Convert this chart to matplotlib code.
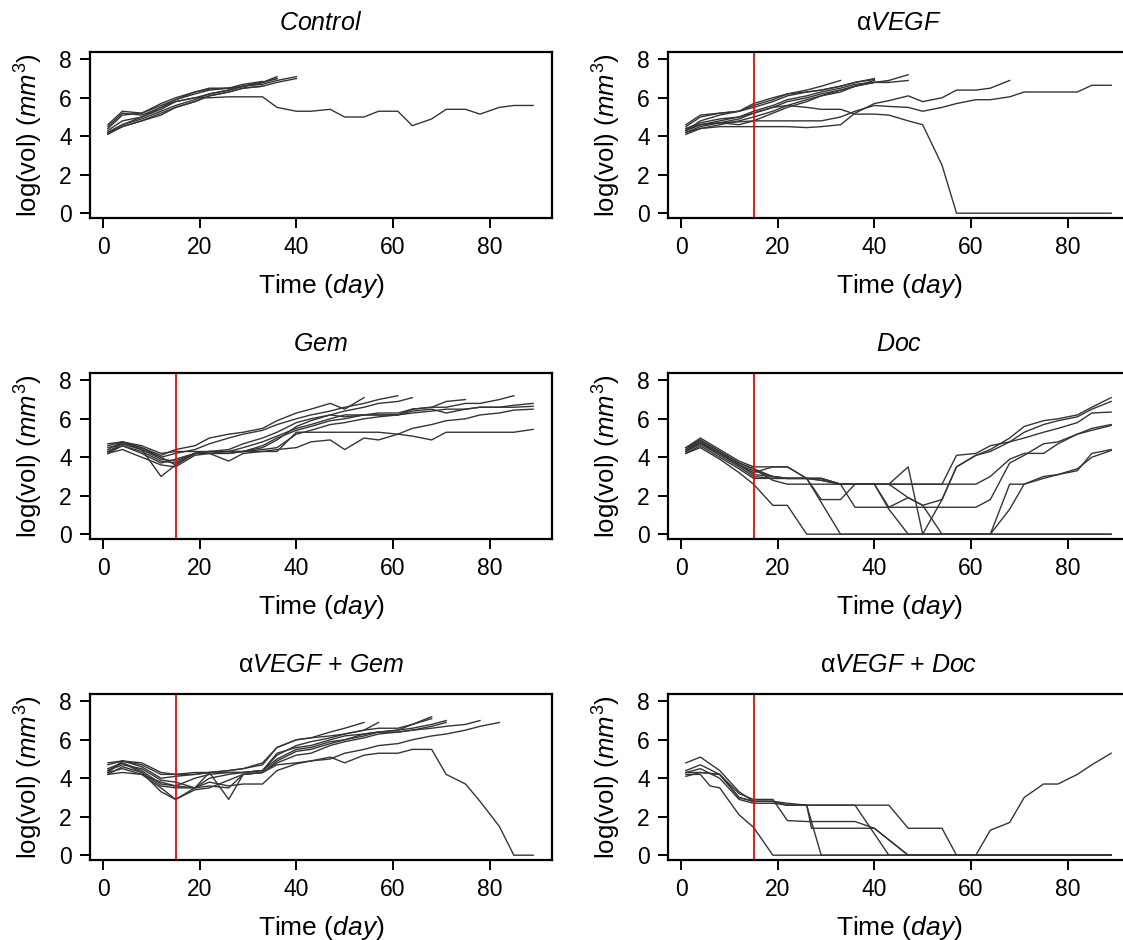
import matplotlib
matplotlib.use("Agg")
import matplotlib.pyplot as plt

plt.rcParams['font.family'] = ['Liberation Sans', 'DejaVu Sans']
plt.rcParams['mathtext.fontset'] = 'custom'
plt.rcParams['mathtext.rm'] = 'Liberation Sans'
plt.rcParams['mathtext.it'] = 'Liberation Sans:italic'

# measurement days shared by most tumours
grid = [1, 4, 8, 12, 15, 19, 22, 26, 29, 33, 36, 40, 43, 47, 50, 54, 57, 61,
        64, 68, 71, 75, 78, 82, 85, 89]
treat_day = 15

# ---- Control
ctrl_1 = [4.6, 5.3, 5.2, 5.7, 6.0, 6.3, 6.45, 6.5, 6.6, 6.8, 7.1]
ctrl_2 = [4.3, 4.8, 5.0, 5.5, 5.8, 6.0, 6.2, 6.4, 6.6, 6.7, 6.9, 7.1]
ctrl_3 = [4.1, 4.5, 4.8, 5.2, 5.5, 5.8, 6.1, 6.3, 6.5, 6.6, 6.8, 7.0]
ctrl_4 = [4.2, 4.6, 4.9, 5.3, 5.6, 5.9, 6.2, 6.4, 6.6, 6.8, 7.0]
ctrl_5 = [4.2, 4.6, 5.0, 5.4, 5.8, 6.0, 6.0, 6.05, 6.05, 6.05, 5.5, 5.3, 5.3,
          5.4, 5.0, 5.0, 5.3, 5.3, 4.55, 4.9, 5.4, 5.4, 5.15, 5.5, 5.6, 5.6]
ctrl_6 = [4.4, 5.1, 5.2, 5.6, 5.9, 6.2, 6.4, 6.5, 6.7, 6.85]
ctrl_7 = [4.15, 4.5, 4.8, 5.1, 5.5, 5.8, 6.1, 6.3, 6.5, 6.6]
ctrl_8 = [4.5, 5.2, 5.1, 5.5, 5.9, 6.3, 6.5, 6.5, 6.6, 6.8, 7.0]

# ---- aVEGF
vegf_1_days = [1, 4, 8, 12, 15, 19, 22, 26, 29, 33, 36, 40, 43, 47, 50, 54, 57, 89]
vegf_1 = [4.3, 4.6, 4.8, 5.0, 5.2, 5.5, 5.6, 5.5, 5.4, 5.4, 5.15, 5.15, 5.1,
          4.8, 4.6, 2.5, 0, 0]
vegf_2 = [4.2, 4.4, 4.5, 4.5, 4.5, 4.5, 4.5, 4.45, 4.5, 4.6, 5.2, 5.7, 5.85,
          6.1, 5.8, 6.0, 6.4, 6.4, 6.5, 6.9]
vegf_3 = [4.4, 4.6, 4.7, 4.75, 4.8, 4.8, 4.8, 4.8, 4.8, 5.0, 5.3, 5.6, 5.55,
          5.5, 5.3, 5.5, 5.7, 5.9, 5.9, 6.05, 6.3, 6.3, 6.3, 6.3, 6.65, 6.65]
vegf_4 = [4.5, 5.0, 5.2, 5.3, 5.7, 6.0, 6.2, 6.4, 6.6, 6.9]
vegf_5 = [4.3, 4.8, 5.1, 5.3, 5.5, 5.8, 6.1, 6.3, 6.4, 6.6, 6.8, 7.0]
vegf_6 = [4.2, 4.5, 4.7, 4.9, 5.2, 5.5, 5.8, 6.0, 6.2, 6.4, 6.6, 6.8, 6.8]
vegf_7 = [4.4, 4.7, 4.9, 5.0, 5.3, 5.6, 5.9, 6.1, 6.3, 6.5, 6.7, 6.8, 6.8, 6.9]
vegf_8 = [4.1, 4.4, 4.6, 4.8, 5.0, 5.3, 5.6, 5.9, 6.1, 6.4, 6.6, 6.8, 6.9, 7.2]
vegf_9 = [4.6, 5.1, 5.2, 5.3, 5.6, 5.9, 6.2, 6.3, 6.4, 6.6, 6.8, 6.95]
vegf_10 = [4.3, 4.6, 4.7, 4.6, 4.8, 5.2, 5.5, 5.8, 6.1, 6.3, 6.6, 6.9]

# ---- Gem
gem_1 = [4.6, 4.8, 4.5, 4.1, 4.4, 4.6, 5.0, 5.2, 5.3, 5.5, 5.9, 6.3, 6.5, 6.8, 6.5, 7.1]
gem_2 = [4.3, 4.7, 4.4, 4.0, 4.2, 4.4, 4.7, 5.0, 5.2, 5.4, 5.7, 6.0, 6.2, 6.4,
         6.6, 6.8, 7.0, 7.2]
gem_3 = [4.4, 4.8, 4.6, 4.2, 4.3, 4.3, 4.3, 4.4, 4.7, 5.0, 5.3, 5.8, 6.0, 6.2,
         6.4, 6.6, 6.8, 6.9, 7.1]
gem_4 = [4.2, 4.6, 4.3, 3.8, 3.7, 4.2, 4.3, 4.3, 4.5, 4.8, 5.1, 5.5, 5.7, 6.0,
         6.2, 6.2, 6.2, 6.2, 6.5, 6.6, 6.9, 7.0]
gem_5 = [4.5, 4.7, 4.4, 3.9, 3.8, 4.2, 4.2, 4.2, 4.3, 4.6, 5.0, 5.4, 5.6, 5.9,
         6.0, 6.2, 6.3, 6.3, 6.5, 6.6, 6.6, 6.8, 6.8, 7.0, 7.2]
gem_6 = [4.2, 4.8, 4.5, 4.0, 3.6, 4.2, 4.2, 4.3, 4.3, 4.5, 4.9, 5.6, 5.9, 6.2,
         6.1, 6.2, 6.2, 6.2, 6.4, 6.5, 6.3, 6.5, 6.6, 6.6, 6.7, 6.8]
gem_7 = [4.3, 4.6, 4.2, 3.7, 3.9, 4.2, 4.2, 4.2, 4.3, 4.4, 4.5, 5.2, 5.4, 5.7,
         5.8, 6.0, 6.1, 6.2, 6.3, 6.4, 6.5, 6.5, 6.6, 6.6, 6.6, 6.65]
gem_8 = [4.2, 4.4, 4.0, 3.6, 3.5, 4.1, 4.2, 3.8, 4.2, 4.3, 4.4, 4.5, 4.8, 4.9,
         4.4, 5.0, 4.9, 5.2, 5.5, 5.7, 5.9, 6.0, 6.2, 6.3, 6.45, 6.5]
gem_9 = [4.7, 4.8, 4.4, 3.0, 3.6, 4.2, 4.3, 4.3, 4.3, 4.3, 4.3, 5.3, 5.3, 5.3,
         5.3, 5.3, 5.3, 5.2, 5.1, 4.9, 5.3, 5.3, 5.3, 5.3, 5.3, 5.45]

# ---- Doc
doc_1_days = [1, 4, 8, 12, 15, 19, 22, 26, 89]
doc_1 = [4.2, 4.5, 3.9, 3.2, 2.6, 1.5, 1.5, 0, 0]
doc_2_days = [1, 4, 8, 12, 15, 19, 22, 26, 33, 89]
doc_2 = [4.3, 4.8, 4.2, 3.6, 3.1, 3.0, 2.9, 2.9, 0, 0]
doc_3 = [4.4, 4.9, 4.3, 3.7, 3.4, 2.8, 2.6, 2.6, 2.6, 2.6, 2.6, 2.6, 2.6, 2.6,
         2.6, 2.6, 4.1, 4.2, 4.6, 4.8, 5.3, 5.7, 5.9, 6.1, 6.5, 6.9]
doc_4 = [4.3, 4.7, 4.2, 3.6, 3.2, 3.5, 3.5, 2.9, 2.9, 2.6, 2.6, 2.6, 2.6, 3.5,
         0, 1.8, 3.5, 4.1, 4.4, 5.0, 5.6, 5.9, 6.0, 6.2, 6.6, 7.1]
doc_5 = [4.2, 4.6, 4.0, 3.4, 2.9, 2.9, 2.9, 2.9, 2.9, 2.6, 2.6, 2.6, 2.6, 2.6,
         2.6, 2.6, 2.6, 2.6, 3.0, 3.9, 4.2, 4.2, 4.7, 5.2, 5.5, 5.7]
doc_6 = [4.4, 4.8, 4.2, 3.6, 3.3, 3.0, 2.9, 2.9, 2.9, 2.6, 1.4, 1.4, 1.4, 1.4,
         1.4, 1.4, 1.4, 1.4, 1.8, 3.7, 4.1, 4.7, 4.8, 5.2, 5.4, 5.65]
doc_7 = [4.3, 4.7, 4.1, 3.5, 3.0, 2.9, 2.9, 2.9, 2.8, 2.6, 2.6, 2.6, 1.3, 0,
         0, 0, 0, 0, 0, 2.6, 2.6, 3.0, 3.1, 3.3, 4.2, 4.4]
doc_8 = [4.5, 4.9, 4.3, 3.7, 3.4, 3.0, 2.9, 2.9, 2.8, 2.6, 2.6, 2.6, 1.4, 1.9,
         1.5, 0, 0, 0, 0, 1.3, 2.6, 2.9, 3.1, 3.4, 4.0, 4.35]
doc_9 = [4.5, 5.0, 4.4, 3.8, 3.5, 3.5, 3.5, 2.9, 1.8, 1.8, 2.6, 2.6, 2.6, 1.9,
         1.5, 1.8, 3.5, 4.1, 4.3, 4.8, 5.0, 5.3, 5.5, 5.8, 6.3, 6.35]

# ---- aVEGF + Gem
ag_1 = [4.8, 4.9, 4.7, 4.2, 4.2, 4.2, 4.3, 4.4, 4.5, 4.7, 5.6, 6.0, 6.1, 6.4, 6.6, 6.9]
ag_2 = [4.4, 4.8, 4.4, 3.7, 3.6, 4.0, 4.2, 4.3, 4.3, 4.4, 5.2, 5.7, 5.9, 6.1,
        6.3, 6.5, 6.9]
ag_3 = [4.2, 4.6, 4.3, 3.6, 3.5, 3.5, 4.0, 4.2, 4.3, 4.4, 5.0, 5.5, 5.6, 5.9,
        6.0, 6.3, 6.4, 6.5, 6.8, 7.2]
ag_4 = [4.3, 4.9, 4.6, 4.0, 4.1, 4.2, 4.3, 4.3, 4.3, 4.4, 5.3, 5.6, 5.7, 6.0,
        6.2, 6.3, 6.4, 6.5, 6.6, 6.8, 7.0]
ag_5 = [4.5, 4.8, 4.3, 3.3, 2.9, 3.4, 3.5, 3.9, 4.2, 4.3, 4.9, 5.4, 5.5, 5.8,
        6.0, 6.2, 6.4, 6.4, 6.5, 6.6, 6.7, 6.8, 7.0]
ag_6 = [4.2, 4.3, 4.2, 3.5, 2.9, 3.5, 4.3, 2.9, 4.2, 4.3, 4.7, 4.8, 4.9, 5.0,
        5.3, 5.5, 5.7, 5.8, 6.0, 6.2, 6.3, 6.5, 6.7, 6.9]
ag_7 = [4.3, 4.5, 4.2, 3.8, 3.6, 3.5, 3.8, 3.6, 3.7, 3.7, 4.4, 4.75, 4.9, 5.1,
        4.8, 5.2, 5.3, 5.3, 5.5, 5.5, 4.2, 3.7, 2.8, 1.5, 0, 0]
ag_8 = [4.7, 4.9, 4.8, 4.3, 4.2, 4.3, 4.3, 4.4, 4.5, 4.8, 5.6, 6.0, 6.1, 6.2,
        6.3, 6.5, 6.6, 6.6, 6.8, 7.1]
ag_9 = [4.4, 4.7, 4.5, 3.9, 3.8, 3.5, 3.6, 3.5, 4.2, 4.3, 4.8, 5.2, 5.3, 5.7,
        5.9, 6.1, 6.3, 6.4, 6.5, 6.7, 6.9]

# ---- aVEGF + Doc
ad_1_days = [1, 4, 6, 8, 12, 15, 19, 89]
ad_1 = [4.2, 4.2, 3.6, 3.5, 2.1, 1.45, 0, 0]
ad_2 = [4.3, 4.3, 4.2, 3.0, 2.8, 2.8, 2.6, 2.6, 2.6, 2.6, 2.6, 2.6, 2.6, 1.4,
        1.4, 1.4, 0, 0, 1.3, 1.7, 3.0, 3.7, 3.7, 4.2, 4.7, 5.3]
ad_3_days = [1, 4, 8, 12, 15, 19, 22, 26, 29, 33, 36, 43, 89]
ad_3 = [4.8, 5.1, 4.4, 3.3, 2.8, 2.8, 2.6, 2.6, 2.6, 2.6, 2.6, 0, 0]
ad_4_days = [1, 4, 8, 12, 15, 19, 22, 26, 29, 33, 36, 40, 47, 89]
ad_4 = [4.4, 4.7, 4.2, 3.2, 2.9, 2.9, 1.8, 1.75, 1.75, 1.75, 1.75, 1.4, 0, 0]
ad_5_days = [1, 4, 8, 12, 15, 19, 22, 26, 27, 29, 33, 36, 40, 47, 89]
ad_5 = [4.3, 4.5, 4.0, 2.9, 2.7, 2.7, 2.6, 2.6, 1.4, 1.4, 1.4, 1.4, 1.4, 0, 0]
ad_6_days = [1, 4, 8, 12, 15, 19, 22, 26, 29, 89]
ad_6 = [4.1, 4.3, 4.2, 3.0, 2.8, 2.8, 2.7, 2.6, 0, 0]


def on_grid(vals):
    return (grid[:len(vals)], vals)


panels = [
    (r"$\mathit{Control}$", False,
     [on_grid(v) for v in [ctrl_1, ctrl_2, ctrl_3, ctrl_4, ctrl_5, ctrl_6, ctrl_7, ctrl_8]]),
    (r"α$\mathit{VEGF}$", True,
     [(vegf_1_days, vegf_1)] + [on_grid(v) for v in [vegf_2, vegf_3, vegf_4, vegf_5, vegf_6,
                                                      vegf_7, vegf_8, vegf_9, vegf_10]]),
    (r"$\mathit{Gem}$", True,
     [on_grid(v) for v in [gem_1, gem_2, gem_3, gem_4, gem_5, gem_6, gem_7, gem_8, gem_9]]),
    (r"$\mathit{Doc}$", True,
     [(doc_1_days, doc_1), (doc_2_days, doc_2)] +
     [on_grid(v) for v in [doc_3, doc_4, doc_5, doc_6, doc_7, doc_8, doc_9]]),
    (r"α$\mathit{VEGF}$ + $\mathit{Gem}$", True,
     [on_grid(v) for v in [ag_1, ag_2, ag_3, ag_4, ag_5, ag_6, ag_7, ag_8, ag_9]]),
    (r"α$\mathit{VEGF}$ + $\mathit{Doc}$", True,
     [(ad_1_days, ad_1), on_grid(ad_2), (ad_3_days, ad_3), (ad_4_days, ad_4),
      (ad_5_days, ad_5), (ad_6_days, ad_6)]),
]

W, H = 1123, 940
fig = plt.figure(figsize=(W / 100, H / 100), dpi=100)

col_left = [90, 668]
row_top = [52, 373, 694]
box_w, box_h = 462, 166

for i, (title, red, lines) in enumerate(panels):
    r, c = divmod(i, 2)
    ax = fig.add_axes([col_left[c] / W, 1 - (row_top[r] + box_h) / H, box_w / W, box_h / H])
    for days, vals in lines:
        ax.plot(days, vals, color='#353535', lw=1.0)
    if red:
        ax.axvline(treat_day, color='red', lw=1.3)
    ax.set_xlim(-2.7, 92.9)
    ax.set_ylim(-0.25, 8.38)
    ax.set_xticks([0, 20, 40, 60, 80])
    ax.set_yticks([0, 2, 4, 6, 8])
    ax.tick_params(length=7, width=1.4, pad=6)
    for lab in ax.get_xticklabels() + ax.get_yticklabels():
        lab.set_fontfamily(['Liberation Sans Narrow', 'Liberation Sans'])
        lab.set_fontsize(16.5)
    for s in ax.spines.values():
        s.set_linewidth(1.6)
    ax.set_title(title, fontsize=18, pad=16)
    ax.set_xlabel(r"Time ($\mathit{day}$)", fontsize=19, labelpad=9)
    ax.set_ylabel(r"log(vol) ($mm^3$)", fontsize=18.5, labelpad=10)

fig.savefig("out.png", dpi=100)
